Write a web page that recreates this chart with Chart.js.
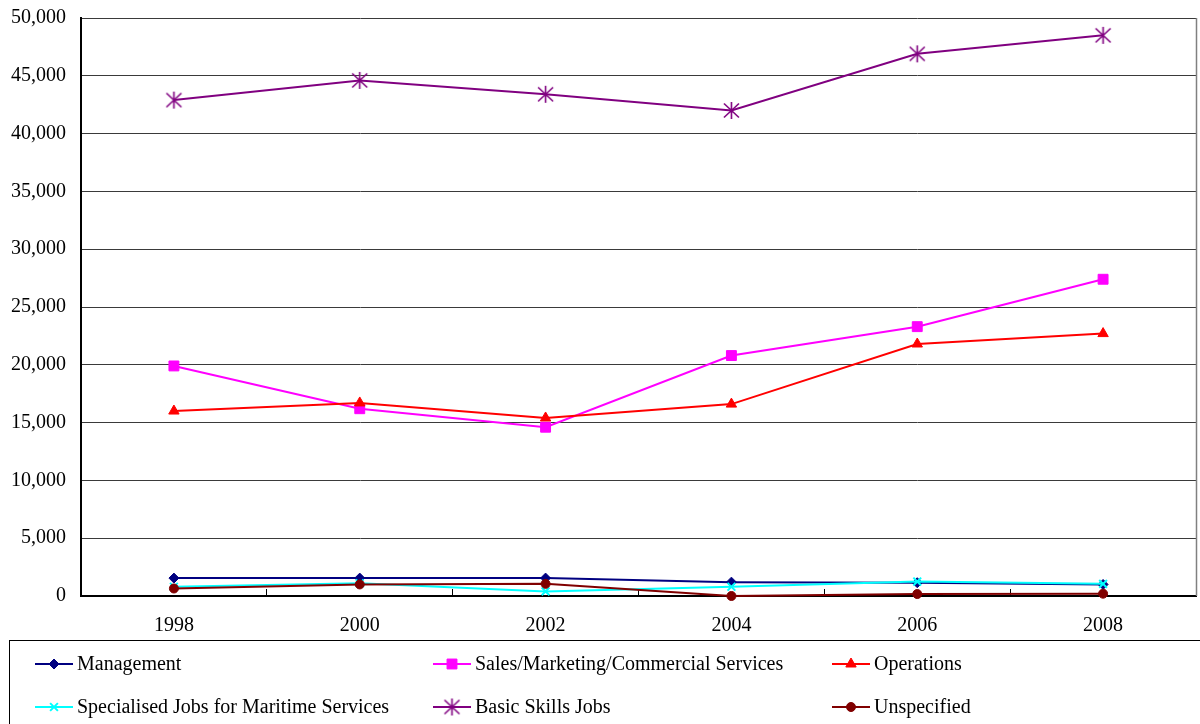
<!DOCTYPE html>
<html>
<head>
<meta charset="utf-8">
<script src="https://cdn.jsdelivr.net/npm/chart.js@4/dist/chart.umd.min.js"></script>
<style>
  html, body { margin: 0; padding: 0; background: #fff; }
  #wrap { width: 1200px; height: 724px; position: relative; }
</style>
</head>
<body>
<div id="wrap"><canvas id="c" width="1200" height="724"></canvas></div>
<script>
// Employment by job category, 1998–2008
const years = ['1998', '2000', '2002', '2004', '2006', '2008'];
const management   = [1550, 1550, 1550, 1200, 1150, 1000];
const sales        = [19900, 16200, 14600, 20800, 23300, 27400];
const operations   = [16000, 16700, 15400, 16600, 21800, 22700];
const specialised  = [800, 1100, 400, 800, 1250, 1050];
const basicSkills  = [42900, 44600, 43400, 42000, 46900, 48500];
const unspecified  = [650, 1000, 1050, 0, 170, 200];
const yTicks = { min: 0, max: 50000, step: 5000 };

const FONT = '"Liberation Serif", "Times New Roman", serif';

// Asterisk-style marker (vertical bar plus an X)
function makeStar(color) {
  const s = 19, c = document.createElement('canvas');
  c.width = s; c.height = s;
  const g = c.getContext('2d');
  g.strokeStyle = color; g.lineWidth = 1.6;
  g.beginPath();
  g.moveTo(s / 2, 1); g.lineTo(s / 2, s - 1);
  g.moveTo(2, 2.5); g.lineTo(s - 2, s - 2.5);
  g.moveTo(s - 2, 2.5); g.lineTo(2, s - 2.5);
  g.stroke();
  return c;
}

const series = [
  { label: 'Management', data: management, color: '#000080', style: 'rectRot', radius: 5 },
  { label: 'Sales/Marketing/Commercial Services', data: sales, color: '#FF00FF', style: 'rect', radius: 7 },
  { label: 'Operations', data: operations, color: '#FF0000', style: 'triangle', radius: 6 },
  { label: 'Specialised Jobs for Maritime Services', data: specialised, color: '#00FFFF', style: 'crossRot', radius: 5.5 },
  { label: 'Basic Skills Jobs', data: basicSkills, color: '#800080', style: makeStar('#800080'), radius: 9 },
  { label: 'Unspecified', data: unspecified, color: '#800000', style: 'circle', radius: 4.5 }
];

const datasets = series.map((s, i) => ({
  label: s.label,
  data: s.data,
  borderColor: s.color,
  backgroundColor: s.color,
  borderWidth: 2,
  pointStyle: s.style,
  pointRadius: s.radius,
  pointHoverRadius: s.radius,
  pointBorderColor: s.color,
  pointBackgroundColor: s.color,
  pointBorderWidth: (s.style === 'crossRot') ? 2 : 1,
  tension: 0,
  clip: false,
  order: series.length - i
}));

// Frame on the right side of the plot
const frame = {
  id: 'frame',
  afterDraw(chart) {
    const { ctx, chartArea: a } = chart;
    ctx.save();
    ctx.strokeStyle = '#808080';
    ctx.lineWidth = 1.5;
    ctx.beginPath();
    ctx.moveTo(a.right + 0.5, a.top);
    ctx.lineTo(a.right + 0.5, a.bottom);
    ctx.stroke();
    ctx.restore();
  }
};

// Three-column boxed legend below the axis
const boxLegend = {
  id: 'boxLegend',
  afterDraw(chart) {
    const { ctx } = chart;
    const top = chart.scales.x.bottom;
    ctx.save();
    ctx.strokeStyle = '#000';
    ctx.lineWidth = 1;
    ctx.strokeRect(9.5, top + 0.5, 1300, 200);
    const colX = [35, 433, 832];
    const rowY = [top + 24, top + 67];
    ctx.font = '20px ' + FONT;
    ctx.textBaseline = 'middle';
    ctx.fillStyle = '#000';
    const drawPoint = Chart.helpers && Chart.helpers.drawPoint;
    chart.data.datasets.forEach((ds, i) => {
      const x = colX[i % 3], y = rowY[Math.floor(i / 3)];
      ctx.strokeStyle = ds.borderColor;
      ctx.lineWidth = 2;
      ctx.beginPath();
      ctx.moveTo(x, y); ctx.lineTo(x + 38, y);
      ctx.stroke();
      ctx.fillStyle = ds.pointBackgroundColor;
      ctx.strokeStyle = ds.pointBorderColor;
      ctx.lineWidth = ds.pointBorderWidth;
      if (drawPoint) {
        drawPoint(ctx, { pointStyle: ds.pointStyle, radius: ds.pointRadius, rotation: 0, borderWidth: ds.pointBorderWidth }, x + 19, y);
      } else {
        ctx.beginPath(); ctx.arc(x + 19, y, 4, 0, Math.PI * 2); ctx.fill();
      }
      ctx.fillStyle = '#000';
      ctx.fillText(ds.label, x + 42, y + 1);
    });
    ctx.restore();
  }
};

new Chart(document.getElementById('c'), {
  type: 'line',
  data: { labels: years, datasets },
  options: {
    responsive: false,
    animation: false,
    devicePixelRatio: 1,
    layout: { autoPadding: false, padding: { left: 0, right: 4, top: 18, bottom: 84 } },
    plugins: { legend: { display: false }, tooltip: { enabled: false } },
    scales: {
      x: {
        offset: true,
        grid: { offset: true, drawOnChartArea: false, drawTicks: true, tickLength: -7, color: '#000', lineWidth: 1 },
        border: { color: '#000', width: 2 },
        ticks: { font: { family: FONT, size: 20 }, color: '#000', padding: 25, maxRotation: 0 },
        afterFit(scale) { scale.height = 44; scale.paddingLeft = 0; scale.paddingRight = 0; }
      },
      y: {
        min: yTicks.min, max: yTicks.max,
        grid: { color: '#3a3a3a', lineWidth: 1, drawTicks: false },
        border: { color: '#000', width: 2 },
        ticks: {
          stepSize: yTicks.step,
          font: { family: FONT, size: 20 },
          color: '#000',
          padding: 15,
          callback: v => v.toLocaleString('en-US')
        },
        afterFit(scale) { scale.width = 81; scale.paddingTop = 0; scale.paddingBottom = 0; }
      }
    }
  },
  plugins: [frame, boxLegend]
});
</script>
</body>
</html>
